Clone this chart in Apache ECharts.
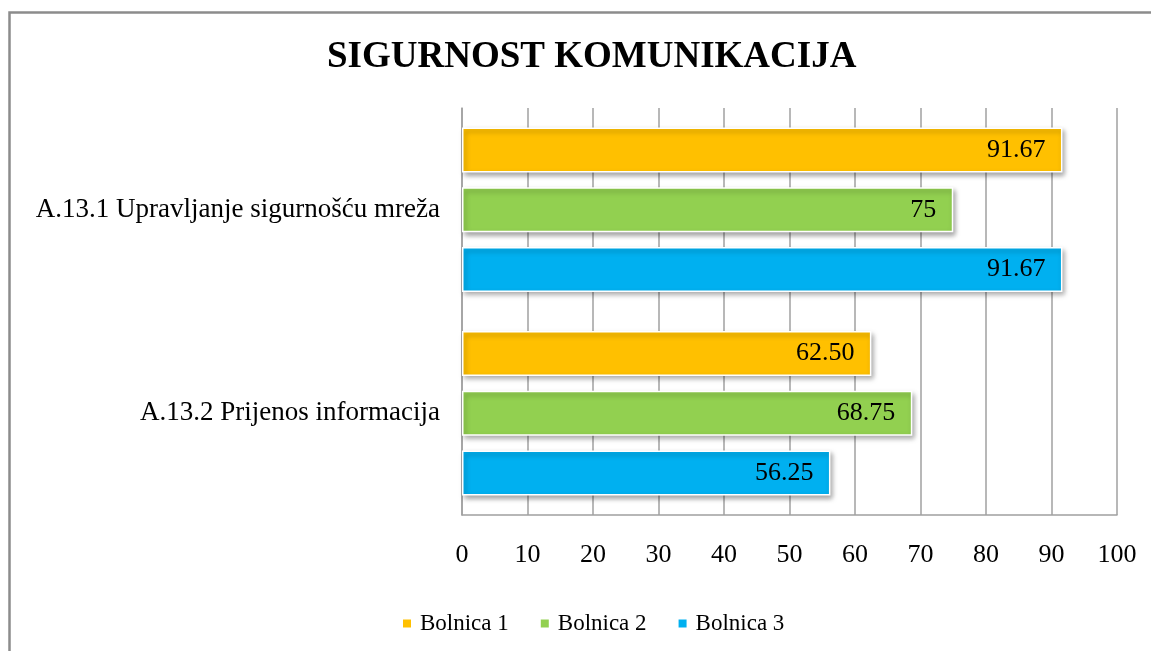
<!DOCTYPE html>
<html>
<head>
<meta charset="utf-8">
<script src="https://cdn.jsdelivr.net/npm/echarts@6/dist/echarts.min.js"></script>
<style>html,body{margin:0;padding:0;background:#fff;}#chart{width:1151px;height:651px;}</style>
</head>
<body>
<div id="chart"></div>
<script>
const titleText = 'SIGURNOST KOMUNIKACIJA';
const categories = ['A.13.1 Upravljanje sigurnošću mreža', 'A.13.2 Prijenos informacija'];
const seriesNames = ['Bolnica 1', 'Bolnica 2', 'Bolnica 3'];
const bolnica1 = [91.67, 62.50];
const bolnica2 = [75, 68.75];
const bolnica3 = [91.67, 56.25];
const xTicks = [0, 10, 20, 30, 40, 50, 60, 70, 80, 90, 100];

const colors = ['#FFC000', '#92D050', '#00B0F0'];
const serif = '"Liberation Serif", "Times New Roman", "DejaVu Serif", serif';
const fmt = v => Number.isInteger(v) ? String(v) : v.toFixed(2);

const chart = echarts.init(document.getElementById('chart'), null, {renderer: 'canvas'});
const mk = (name, data, i) => ({
  name, type: 'bar', data,
  barWidth: 45, barGap: '33%',
  itemStyle: {
    color: colors[i], borderColor: '#ffffff', borderWidth: 1.5,
    shadowBlur: 5, shadowOffsetX: 2, shadowOffsetY: 3, shadowColor: 'rgba(0,0,0,0.35)'
  },
  label: {
    show: true, position: 'insideRight', distance: 17,
    fontFamily: serif, fontSize: 26, color: '#000',
    formatter: p => fmt(p.value)
  }
});
chart.setOption({
  animation: false,
  color: colors,
  title: {
    text: titleText, left: 322, top: 34,
    textStyle: {fontFamily: serif, fontWeight: 'bold', fontSize: 37, color: '#000'}
  },
  graphic: [{
    type: 'rect', left: 7, top: 10, silent: true,
    shape: {width: 1200, height: 700},
    style: {fill: 'none', stroke: '#8c8c8c', lineWidth: 2.5}
  }],
  legend: {
    data: seriesNames, left: 396, top: 607,
    icon: 'rect', itemWidth: 10, itemHeight: 10, itemGap: 30,
    textStyle: {fontFamily: serif, fontSize: 23, color: '#000', padding: [0, 0, 0, 3]}
  },
  grid: {left: 462, right: 34, top: 108, bottom: 136, containLabel: false},
  xAxis: {
    type: 'value', min: xTicks[0], max: xTicks[xTicks.length - 1], interval: 10,
    axisLine: {show: true, lineStyle: {color: '#a0a0a0', width: 1.5}},
    axisTick: {show: false},
    splitLine: {show: true, lineStyle: {color: '#a0a0a0', width: 1.5}},
    axisLabel: {fontFamily: serif, fontSize: 26, color: '#000', margin: 27}
  },
  yAxis: {
    type: 'category', inverse: true, data: categories,
    axisLine: {show: true, lineStyle: {color: '#a0a0a0', width: 1.5}},
    axisTick: {show: false},
    axisLabel: {fontFamily: serif, fontSize: 27, color: '#000', margin: 22}
  },
  series: [mk(seriesNames[0], bolnica1, 0), mk(seriesNames[1], bolnica2, 1), mk(seriesNames[2], bolnica3, 2)]
});
</script>
</body>
</html>
